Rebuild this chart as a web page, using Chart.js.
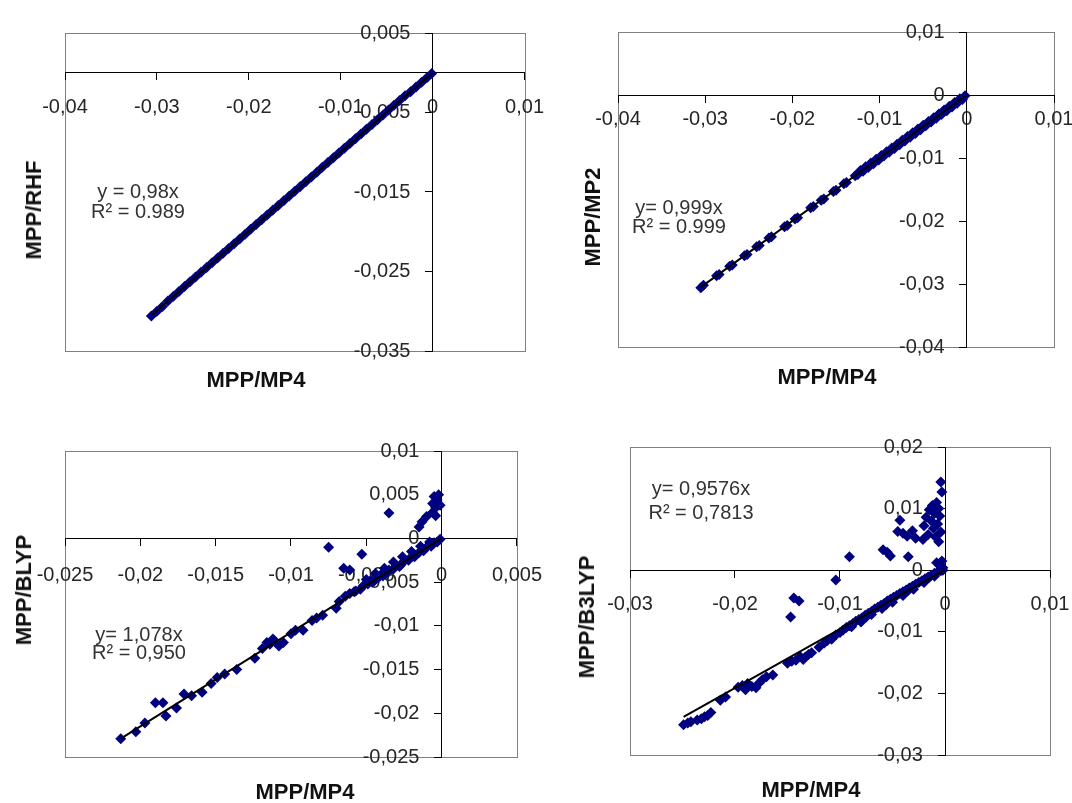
<!DOCTYPE html>
<html>
<head>
<meta charset="utf-8">
<title>MPP correlations</title>
<script src="https://cdn.jsdelivr.net/npm/chart.js@4/dist/chart.umd.min.js"></script>
<style>
  body { margin: 0; background: #fff; width: 1072px; height: 803px; position: relative; overflow: hidden;
         font-family: 'Liberation Sans', Arial, sans-serif; }
  canvas { position: absolute; }
  .lbl { position: absolute; transform: translate(-50%, -50%); white-space: nowrap; color: #1a1a1a; }
  .ttl { font-weight: bold; font-size: 22px; color: #111; }
  .vt { transform: translate(-50%, -50%) rotate(-90deg); }
  .eq { font-size: 20px; color: #333; }
</style>
</head>
<body>
<canvas id="pRHF" width="560" height="400" style="left:0;top:0"></canvas>
<canvas id="pMP2" width="560" height="400" style="left:536px;top:0"></canvas>
<canvas id="pBLYP" width="560" height="403" style="left:0;top:400px"></canvas>
<canvas id="pB3LYP" width="560" height="403" style="left:536px;top:400px"></canvas>

<div class="lbl ttl" style="left:256px;top:380px">MPP/MP4</div>
<div class="lbl ttl vt" style="left:34px;top:210px">MPP/RHF</div>
<div class="lbl eq" style="left:138px;top:191px">y = 0,98x</div>
<div class="lbl eq" style="left:138px;top:211px">R² = 0.989</div>

<div class="lbl ttl" style="left:827px;top:377px">MPP/MP4</div>
<div class="lbl ttl vt" style="left:593px;top:217px">MPP/MP2</div>
<div class="lbl eq" style="left:679px;top:207px">y= 0,999x</div>
<div class="lbl eq" style="left:679px;top:226px">R² = 0.999</div>

<div class="lbl ttl" style="left:305px;top:792px">MPP/MP4</div>
<div class="lbl ttl vt" style="left:24px;top:590px">MPP/BLYP</div>
<div class="lbl eq" style="left:139px;top:634px">y= 1,078x</div>
<div class="lbl eq" style="left:139px;top:652px">R² = 0,950</div>

<div class="lbl ttl" style="left:811px;top:790px">MPP/MP4</div>
<div class="lbl ttl vt" style="left:587px;top:617px">MPP/B3LYP</div>
<div class="lbl eq" style="left:701px;top:488px">y= 0,9576x</div>
<div class="lbl eq" style="left:701px;top:512px">R² = 0,7813</div>

<script>
// ---- MPP/RHF vs MPP/MP4
const rhfX = [-0.0306,-0.0300,-0.0294,-0.0288,-0.0282,-0.0276,-0.0270,-0.0264,-0.0258,-0.0252,-0.0246,-0.0240,-0.0234,
  -0.0228,-0.0222,-0.0216,-0.0210,-0.0204,-0.0198,-0.0192,-0.0186,-0.0180,-0.0174,-0.0168,-0.0162,-0.0156,-0.0150,
  -0.0144,-0.0138,-0.0132,-0.0126,-0.0120,-0.0114,-0.0108,-0.0102,-0.0096,-0.0090,-0.0084,-0.0078,-0.0072,-0.0066,
  -0.0060,-0.0054,-0.0048,-0.0042,-0.0036,-0.0030,-0.0024,-0.0018,-0.0012,-0.0006,-0.0001];
const rhfY = [-0.0306,-0.0300,-0.0294,-0.0287,-0.0281,-0.0275,-0.0269,-0.0263,-0.0257,-0.0251,-0.0245,-0.0239,-0.0233,
  -0.0227,-0.0221,-0.0215,-0.0209,-0.0203,-0.0197,-0.0191,-0.0185,-0.0179,-0.0173,-0.0167,-0.0161,-0.0155,-0.0149,
  -0.0143,-0.0137,-0.0131,-0.0125,-0.0119,-0.0113,-0.0107,-0.0101,-0.0095,-0.0089,-0.0083,-0.0077,-0.0071,-0.0065,
  -0.0059,-0.0053,-0.0047,-0.0041,-0.0035,-0.0029,-0.0024,-0.0018,-0.0012,-0.0006,-0.0001];
const rhfTrendX = [-0.0306, 0];
const rhfTrendY = [-0.0305, 0];
const rhfXTicks = [-0.04, -0.03, -0.02, -0.01, 0, 0.01];
const rhfXLabels = ['-0,04', '-0,03', '-0,02', '-0,01', '0', '0,01'];
const rhfYTicks = [-0.035, -0.025, -0.015, -0.005, 0.005];
const rhfYLabels = ['-0,035', '-0,025', '-0,015', '-0,005', '0,005'];

// ---- MPP/MP2 vs MPP/MP4
const mp2X = [-0.0305,-0.0302,-0.0287,-0.0284,-0.0272,-0.0269,-0.0255,-0.0252,-0.0241,-0.0238,-0.0227,-0.0224,-0.0209,
  -0.0206,-0.0197,-0.0194,-0.0179,-0.0176,-0.0167,-0.0164,-0.0153,-0.0150,-0.0141,-0.0138,-0.0128,-0.0125,
  -0.0122,-0.0119,-0.0116,-0.0113,-0.0110,-0.0107,-0.0104,-0.0101,-0.0098,-0.0095,-0.0092,-0.0089,-0.0086,-0.0083,
  -0.0080,-0.0077,-0.0074,-0.0071,-0.0068,-0.0065,-0.0062,-0.0059,-0.0056,-0.0053,-0.0050,-0.0047,-0.0044,-0.0041,
  -0.0038,-0.0035,-0.0032,-0.0029,-0.0026,-0.0023,-0.0020,-0.0017,-0.0014,-0.0011,-0.0008,-0.0005,-0.0002];
const mp2Y = [-0.0306,-0.0302,-0.0287,-0.0285,-0.0272,-0.0270,-0.0255,-0.0253,-0.0241,-0.0239,-0.0227,-0.0225,-0.0209,
  -0.0207,-0.0197,-0.0195,-0.0179,-0.0177,-0.0167,-0.0165,-0.0153,-0.0151,-0.0141,-0.0139,-0.0128,-0.0126,
  -0.0120,-0.0121,-0.0114,-0.0115,-0.0108,-0.0109,-0.0102,-0.0103,-0.0096,-0.0097,-0.0090,-0.0091,-0.0084,-0.0085,
  -0.0078,-0.0079,-0.0072,-0.0073,-0.0066,-0.0067,-0.0060,-0.0061,-0.0054,-0.0055,-0.0048,-0.0049,-0.0042,-0.0043,
  -0.0036,-0.0037,-0.0030,-0.0031,-0.0024,-0.0025,-0.0018,-0.0019,-0.0012,-0.0013,-0.0006,-0.0007,-0.0001];
const mp2TrendX = [-0.0305, 0];
const mp2TrendY = [-0.0305, 0];
const mp2XTicks = [-0.04, -0.03, -0.02, -0.01, 0, 0.01];
const mp2XLabels = ['-0,04', '-0,03', '-0,02', '-0,01', '0', '0,01'];
const mp2YTicks = [-0.04, -0.03, -0.02, -0.01, 0, 0.01];
const mp2YLabels = ['-0,04', '-0,03', '-0,02', '-0,01', '0', '0,01'];

// ---- MPP/BLYP vs MPP/MP4
const blypX = [-0.0213,-0.0203,-0.0197,-0.0190,-0.0185,-0.0183,-0.0176,-0.0171,-0.0166,-0.0159,-0.0153,-0.0149,-0.0144,
  -0.0136,-0.0124,-0.0119,-0.0114,-0.0111,-0.0108,-0.0105,-0.0092,-0.0086,-0.0083,-0.0079,-0.0070,-0.0068,-0.0061,
  -0.0057,-0.0054,-0.0052,-0.0049,-0.0047,-0.0045,-0.0042,-0.0040,-0.0037,-0.0035,-0.0032,-0.0030,-0.0027,-0.0025,
  -0.0022,-0.0020,-0.0017,-0.0015,-0.0012,-0.0010,-0.0007,-0.0005,-0.0003,-0.0001,
  -0.0050,-0.0044,-0.0038,-0.0032,-0.0026,-0.0020,-0.0014,-0.0008,
  -0.0116,-0.0112,-0.0100,-0.0097,-0.0064,-0.0058,-0.0046,-0.0039,-0.0028,-0.0018,
  -0.0075,-0.0053,-0.0065,-0.0061,-0.0035,-0.0015,-0.0013,-0.0010,-0.0006,-0.0004,-0.0006,-0.0003,-0.0005,-0.0002,
  -0.0004,-0.0001];
const blypY = [-0.0229,-0.0221,-0.0211,-0.0188,-0.0188,-0.0203,-0.0194,-0.0178,-0.0180,-0.0176,-0.0166,-0.0159,-0.0155,
  -0.0150,-0.0137,-0.0126,-0.0121,-0.0117,-0.0123,-0.0119,-0.0105,-0.0094,-0.0091,-0.0088,-0.0080,-0.0072,-0.0063,
  -0.0060,-0.0058,-0.0054,-0.0052,-0.0048,-0.0049,-0.0045,-0.0041,-0.0040,-0.0036,-0.0035,-0.0031,-0.0030,-0.0026,
  -0.0025,-0.0021,-0.0019,-0.0016,-0.0014,-0.0010,-0.0009,-0.0005,-0.0004,-0.0001,
  -0.0047,-0.0040,-0.0034,-0.0027,-0.0021,-0.0015,-0.0009,-0.0004,
  -0.0119,-0.0115,-0.0109,-0.0105,-0.0066,-0.0061,-0.0050,-0.0043,-0.0032,-0.0021,
  -0.0010,-0.0018,-0.0034,-0.0036,0.0029,0.0013,0.0019,0.0025,0.0030,0.0035,0.0040,0.0044,0.0048,0.0050,
  0.0026,0.0038];
const blypTrendX = [-0.0213, 0];
const blypTrendY = [-0.0229, 0];
const blypXTicks = [-0.025, -0.02, -0.015, -0.01, -0.005, 0, 0.005];
const blypXLabels = ['-0,025', '-0,02', '-0,015', '-0,01', '-0,005', '0', '0,005'];
const blypYTicks = [-0.025, -0.02, -0.015, -0.01, -0.005, 0, 0.005, 0.01];
const blypYLabels = ['-0,025', '-0,02', '-0,015', '-0,01', '-0,005', '0', '0,005', '0,01'];

// ---- MPP/B3LYP vs MPP/MP4
const b3lypX = [-0.0249,-0.0242,-0.0236,-0.0232,-0.0229,-0.0223,-0.0214,-0.0209,-0.0197,-0.0193,-0.0188,-0.0184,-0.0180,
  -0.0174,-0.0170,-0.0164,-0.0150,-0.0146,-0.0142,-0.0138,-0.0135,-0.0130,-0.0127,-0.0115,-0.0112,-0.0108,-0.0104,
  -0.0100,-0.0097,-0.0094,
  -0.0091,-0.0088,-0.0085,-0.0082,-0.0079,-0.0076,-0.0073,-0.0070,-0.0067,-0.0064,-0.0061,-0.0058,-0.0055,-0.0052,
  -0.0049,-0.0046,-0.0043,-0.0040,-0.0037,-0.0034,-0.0031,-0.0028,-0.0025,-0.0022,-0.0019,-0.0016,-0.0013,-0.0010,
  -0.0007,-0.0004,-0.0002,
  -0.0080,-0.0070,-0.0060,-0.0050,-0.0040,-0.0030,-0.0020,-0.0010,
  -0.0245,-0.0226,-0.0190,-0.0177,-0.0133,-0.0120,-0.0089,-0.0075,-0.0056,-0.0035,-0.0015,
  -0.0004,-0.0003,-0.0008,-0.0012,-0.0006,-0.0015,-0.0010,-0.0005,-0.0018,-0.0013,-0.0007,-0.0020,-0.0011,-0.0004,
  -0.0016,-0.0009,-0.0021,-0.0006,-0.0043,-0.0045,-0.0040,-0.0036,-0.0031,-0.0028,-0.0059,-0.0055,-0.0052,-0.0035,
  -0.0091,-0.0104,-0.0144,-0.0139,-0.0147,-0.0003,-0.0005,-0.0002,-0.0008];
const b3lypY = [-0.0251,-0.0246,-0.0243,-0.0241,-0.0238,-0.0231,-0.0211,-0.0206,-0.0190,-0.0187,-0.0184,-0.0189,-0.0191,
  -0.0178,-0.0173,-0.0170,-0.0151,-0.0148,-0.0146,-0.0140,-0.0145,-0.0137,-0.0134,-0.0118,-0.0114,-0.0112,-0.0105,
  -0.0101,-0.0097,-0.0093,
  -0.0090,-0.0087,-0.0083,-0.0080,-0.0077,-0.0073,-0.0070,-0.0067,-0.0063,-0.0060,-0.0057,-0.0054,-0.0050,-0.0047,
  -0.0044,-0.0041,-0.0038,-0.0035,-0.0032,-0.0029,-0.0026,-0.0023,-0.0020,-0.0017,-0.0014,-0.0011,-0.0008,-0.0005,
  -0.0003,-0.0001,0.0000,
  -0.0084,-0.0072,-0.0062,-0.0052,-0.0041,-0.0031,-0.0020,-0.0010,
  -0.0248,-0.0236,-0.0194,-0.0183,-0.0141,-0.0125,-0.0092,-0.0076,-0.0056,-0.0033,-0.0012,
  0.0143,0.0127,0.0110,0.0105,0.0100,0.0098,0.0092,0.0088,0.0086,0.0080,0.0075,0.0072,0.0068,0.0062,
  0.0058,0.0054,0.0050,0.0046,0.0081,0.0063,0.0060,0.0055,0.0064,0.0052,0.0033,0.0029,0.0023,0.0022,
  0.0022,-0.0016,-0.0045,-0.0050,-0.0076,0.0015,0.0008,0.0004,0.0012];
const b3lypTrendX = [-0.0249, 0];
const b3lypTrendY = [-0.0238, 0];
const b3lypXTicks = [-0.03, -0.02, -0.01, 0, 0.01];
const b3lypXLabels = ['-0,03', '-0,02', '-0,01', '0', '0,01'];
const b3lypYTicks = [-0.03, -0.02, -0.01, 0, 0.01, 0.02];
const b3lypYLabels = ['-0,03', '-0,02', '-0,01', '0', '0,01', '0,02'];

Chart.defaults.font.family = "'Liberation Sans', Arial, sans-serif";
Chart.defaults.font.size = 20;
Chart.defaults.color = '#262626';

// grey border round the plot area, like the Excel plot frame
const plotFrame = {
  id: 'plotFrame',
  beforeDraw(chart) {
    const a = chart.chartArea;
    const c = chart.ctx;
    c.save();
    c.strokeStyle = '#808080';
    c.lineWidth = 1;
    c.strokeRect(Math.round(a.left) + 0.5, Math.round(a.top) + 0.5,
      Math.round(a.right - a.left), Math.round(a.bottom - a.top));
    c.restore();
  }
};

function toPoints(xs, ys) {
  return xs.map((x, i) => ({ x: x, y: ys[i] }));
}

function makePanel(id, xs, ys, tx, ty, xTicks, xLabels, yTicks, yLabels, pad, xLabelPad) {
  new Chart(document.getElementById(id), {
    type: 'scatter',
    data: {
      datasets: [
        { data: toPoints(tx, ty), showLine: true, borderColor: '#000', borderWidth: 2, pointRadius: 0 },
        { data: toPoints(xs, ys), pointStyle: 'rectRot', pointRadius: 5.5,
          backgroundColor: '#000080', borderColor: '#000080', borderWidth: 0 }
      ]
    },
    options: {
      responsive: false,
      animation: false,
      events: [],
      layout: { padding: pad },
      plugins: { legend: { display: false }, tooltip: { enabled: false } },
      scales: {
        x: {
          type: 'linear',
          min: xTicks[0], max: xTicks[xTicks.length - 1],
          position: { y: 0 },
          grid: { drawOnChartArea: false, tickLength: 7, tickColor: '#000' },
          border: { color: '#000', width: 1 },
          ticks: { autoSkip: false, maxRotation: 0, minRotation: 0, padding: xLabelPad,
                   callback: (v, i) => xLabels[i] },
          afterBuildTicks: ax => { ax.ticks = xTicks.map(v => ({ value: v })); }
        },
        y: {
          type: 'linear',
          min: yTicks[0], max: yTicks[yTicks.length - 1],
          position: { x: 0 },
          grid: { drawOnChartArea: false, tickLength: 7, tickColor: '#000' },
          border: { color: '#000', width: 1 },
          ticks: { autoSkip: false, callback: (v, i) => yLabels[i] + '    ' },
          afterBuildTicks: ax => { ax.ticks = yTicks.map(v => ({ value: v })); }
        }
      }
    },
    plugins: [plotFrame]
  });
}

makePanel('pRHF', rhfX, rhfY, rhfTrendX, rhfTrendY, rhfXTicks, rhfXLabels, rhfYTicks, rhfYLabels,
  { left: 65, top: 33, right: 35, bottom: 49 }, 16);
makePanel('pMP2', mp2X, mp2Y, mp2TrendX, mp2TrendY, mp2XTicks, mp2XLabels, mp2YTicks, mp2YLabels,
  { left: 82, top: 32, right: 42, bottom: 53 }, 5);
makePanel('pBLYP', blypX, blypY, blypTrendX, blypTrendY, blypXTicks, blypXLabels, blypYTicks, blypYLabels,
  { left: 65, top: 51, right: 35, bottom: 46 }, 18);
makePanel('pB3LYP', b3lypX, b3lypY, b3lypTrendX, b3lypTrendY, b3lypXTicks, b3lypXLabels, b3lypYTicks, b3lypYLabels,
  { left: 94, top: 47, right: 46, bottom: 48 }, 15);
</script>
</body>
</html>
